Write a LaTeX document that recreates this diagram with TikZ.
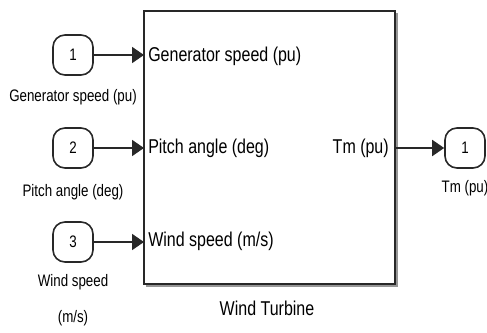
\documentclass[tikz,border=0pt]{standalone}
\usepackage{fontspec}
\newfontfamily\simfont[FakeStretch=0.8]{Liberation Sans}
\newcommand{\blockfont}{\simfont\fontsize{15}{18}\selectfont}
\newcommand{\labelfont}{\simfont\fontsize{12.5}{27}\selectfont}
\definecolor{sledge}{RGB}{40,40,40}
\definecolor{slshadow}{RGB}{150,150,150}
\usetikzlibrary{arrows.meta,positioning}
\tikzset{
  portbox/.style={draw=sledge, rounded corners=9pt, line width=1.2pt, font=\labelfont,
                  minimum width=30pt, minimum height=30pt, inner sep=0pt},
  portlabel/.style={font=\labelfont, align=center, inner sep=0pt},
  blockbox/.style={draw=sledge, line width=1.1pt, inner sep=0pt, outer sep=0pt},
  blocktext/.style={font=\blockfont, inner sep=0pt},
  sigline/.style={sledge, line width=1.4pt, -{Triangle[length=9pt, width=12pt]}},
  shadowline/.style={slshadow, line width=1.4pt},
}

\begin{document}
\begin{tikzpicture}[x=0.75pt, y=-0.75pt]
\useasboundingbox (0,0) rectangle (487,333);

% --- Wind turbine block ---
\node[blockbox, minimum width=188.25pt, minimum height=204.75pt] (wt) at (269.5,147.5) {};
\draw[shadowline] ([xshift=1.6pt, yshift=-1.3pt]wt.south west) -- ([xshift=1.3pt, yshift=-1.3pt]wt.south east)
                  -- ([xshift=1.3pt, yshift=-1.6pt]wt.north east);
\node[font=\blockfont] (wt-name) at (267,308) {Wind Turbine};

% block port texts
\node[blocktext, anchor=west] (wt-gen) at (148,56) {Generator speed (pu)};
\node[blocktext, anchor=west] (wt-pitch) at (148,148) {Pitch angle (deg)};
\node[blocktext, anchor=west] (wt-wind) at (148,241) {Wind speed (m/s)};
\node[blocktext, anchor=east] (wt-tm) at (389,148) {Tm (pu)};

% --- Inports ---
\node[portbox] (in1) at (73,55) {1};
\node[portlabel] (in1-name) at (73,97) {Generator speed (pu)};
\node[portbox] (in2) at (73,148) {2};
\node[portlabel] (in2-name) at (73,192) {Pitch angle (deg)};
\node[portbox] (in3) at (73,242) {3};
\node[portlabel] (in3-name) at (73,300) {Wind speed\\(m/s)};

% --- Outport ---
\node[portbox] (out1) at (465,148) {1};
\node[portlabel] (out1-name) at (465,188) {Tm (pu)};

% signals
\draw[sigline] (in1) -- (in1 -| wt.west);
\draw[sigline] (in2) -- (in2 -| wt.west);
\draw[sigline] (in3) -- (in3 -| wt.west);
\draw[sigline] (out1 -| wt.east) -- (out1);

\end{tikzpicture}
\end{document}
